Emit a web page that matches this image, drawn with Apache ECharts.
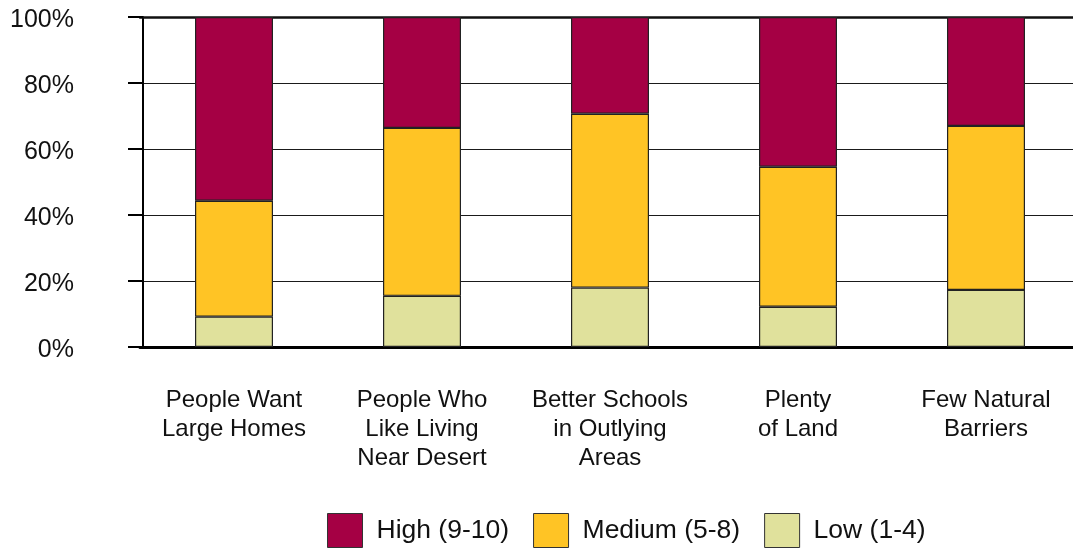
<!DOCTYPE html>
<html>
<head>
<meta charset="utf-8">
<script src="https://cdn.jsdelivr.net/npm/echarts@6/dist/echarts.min.js"></script>
<style>html,body{margin:0;padding:0;background:#fff;overflow:hidden;}#c{width:1100px;height:549px;}</style>
</head>
<body>
<div id="c"></div>
<script>
const categories = ['People Want\nLarge Homes', 'People Who\nLike Living\nNear Desert', 'Better Schools\nin Outlying\nAreas', 'Plenty\nof Land', 'Few Natural\nBarriers'];
const lowValues = [9.2, 15.5, 18.0, 12.2, 17.3];
const mediumValues = [35.1, 50.9, 52.7, 42.4, 49.7];
const highValues = [55.7, 33.6, 29.3, 45.4, 33.0];
const yTicks = [0, 20, 40, 60, 80, 100];

const FONT = "'Liberation Sans', Arial, sans-serif";
const chart = echarts.init(document.getElementById('c'), null, {renderer: 'canvas'});
const barStyle = (c) => ({color: c, borderColor: '#222', borderWidth: 1.2});
chart.setOption({
  animation: false,
  grid: {left: 140, top: 17, bottom: 202, width: 940, containLabel: false},
  legend: {
    top: 513, left: 327, padding: 0,
    itemWidth: 35, itemHeight: 34, itemGap: 24,
    icon: 'rect',
    textStyle: {fontFamily: FONT, fontSize: 26.5, color: '#111', padding: [0, 0, 0, 9]},
    data: [
      {name: 'High (9-10)', itemStyle: {color: '#A50044', borderColor: '#333', borderWidth: 1}},
      {name: 'Medium (5-8)', itemStyle: {color: '#FFC425', borderColor: '#333', borderWidth: 1}},
      {name: 'Low (1-4)', itemStyle: {color: '#E0E19C', borderColor: '#333', borderWidth: 1}}
    ]
  },
  xAxis: [{
    type: 'category', data: categories,
    axisLine: {lineStyle: {color: '#000', width: 3}},
    axisTick: {show: false},
    axisLabel: {fontFamily: FONT, fontSize: 24, color: '#111', lineHeight: 29, margin: 39, interval: 0}
  }, {
    type: 'category', data: categories, position: 'top',
    axisLine: {lineStyle: {color: '#111', width: 2.5}},
    axisTick: {show: false}, axisLabel: {show: false}
  }],
  yAxis: {
    type: 'value', min: 0, max: 100, interval: 20, offset: -3,
    axisLine: {show: true, lineStyle: {color: '#000', width: 2}},
    axisTick: {show: true, length: 15, lineStyle: {color: '#000', width: 2}},
    axisLabel: {fontFamily: FONT, fontSize: 25, color: '#111', margin: 69, verticalAlign: 'top', lineHeight: 6, formatter: (v) => yTicks.includes(v) ? v + '%' : ''},
    splitLine: {show: true, lineStyle: {color: '#1a1a1a', width: 1.2}}
  },
  series: [
    {name: 'Low (1-4)', type: 'bar', stack: 's', data: lowValues, barWidth: 78, itemStyle: barStyle('#E0E19C')},
    {name: 'Medium (5-8)', type: 'bar', stack: 's', data: mediumValues, barWidth: 78, itemStyle: barStyle('#FFC425')},
    {name: 'High (9-10)', type: 'bar', stack: 's', data: highValues, barWidth: 78, itemStyle: barStyle('#A50044')}
  ]
});
</script>
</body>
</html>
